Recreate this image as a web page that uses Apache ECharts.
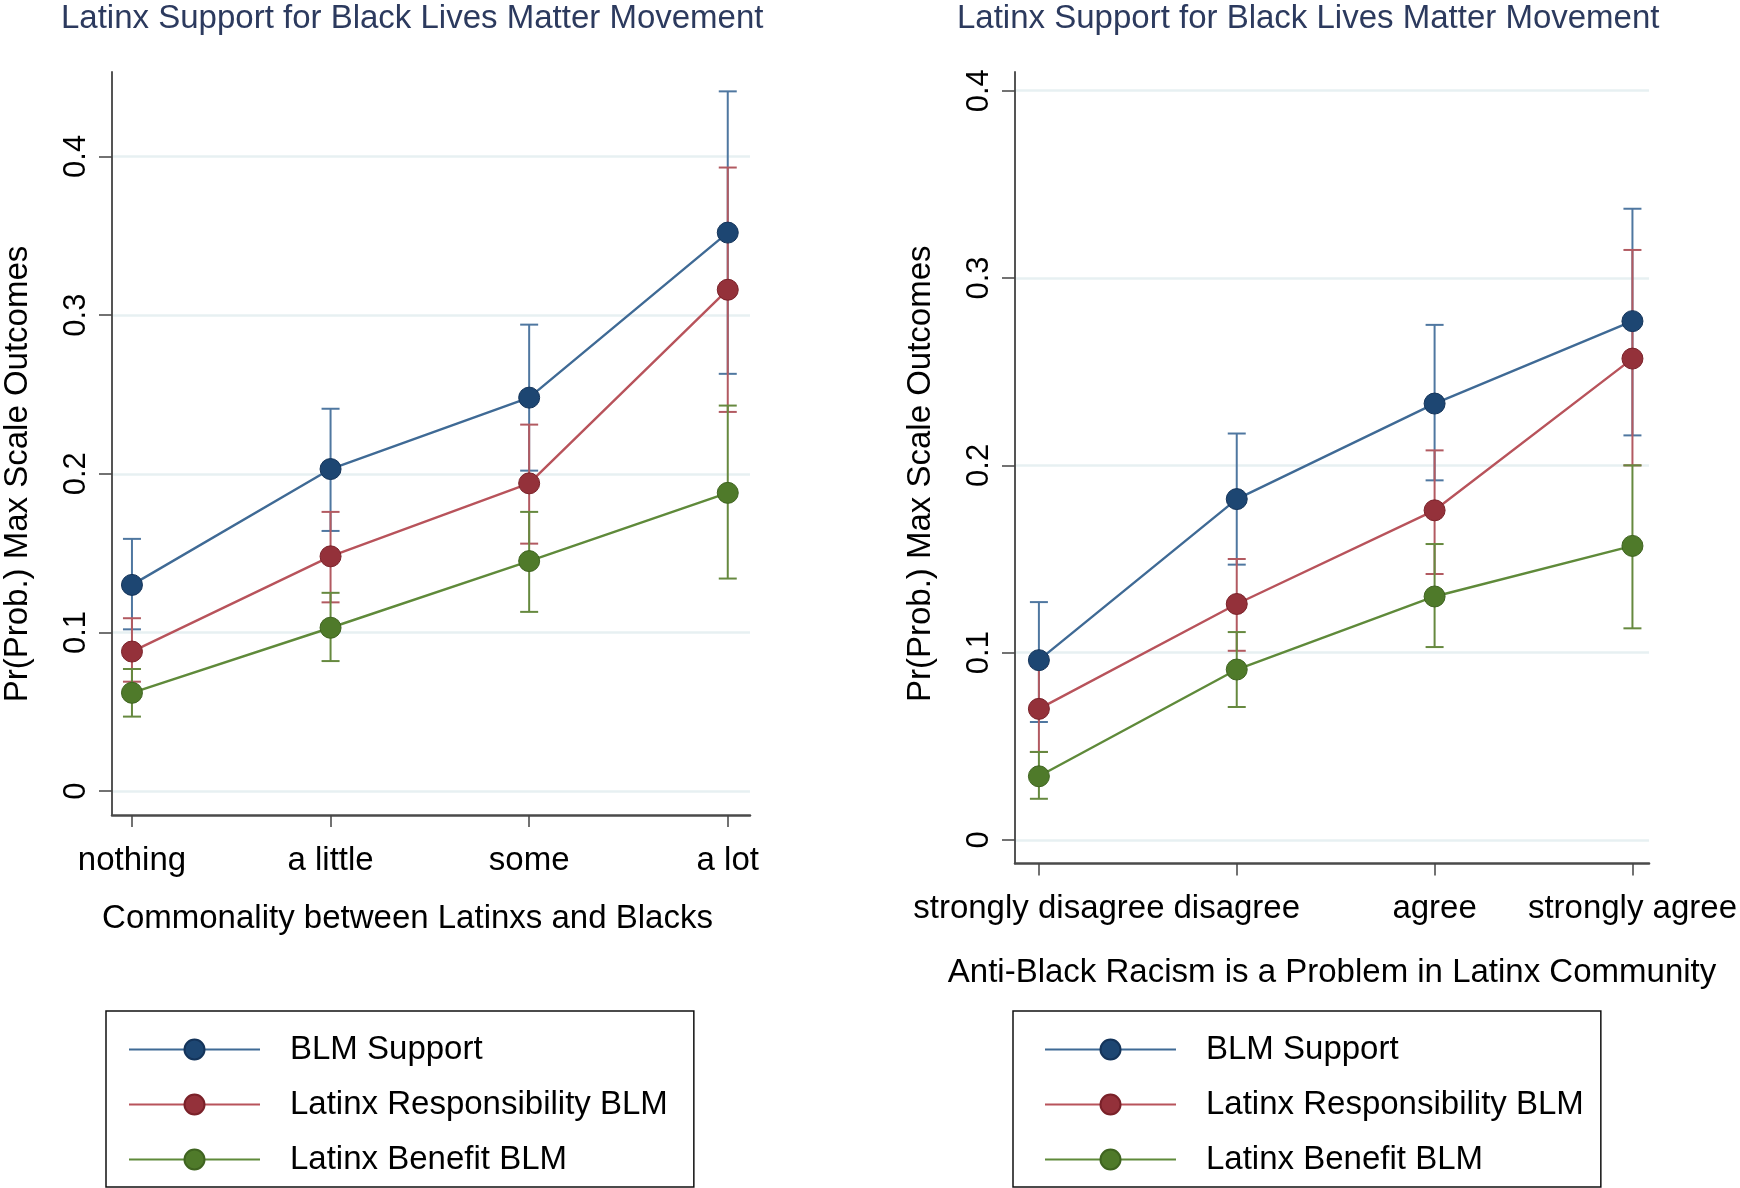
<!DOCTYPE html>
<html><head><meta charset="utf-8">
<script src="https://cdn.jsdelivr.net/npm/echarts@6/dist/echarts.min.js"></script>
<style>html,body{margin:0;padding:0;background:#fff}#c{width:1740px;height:1188px}</style>
</head><body><div id="c"></div>
<script>
// ---------- data ----------
const titleText = 'Latinx Support for Black Lives Matter Movement';
const yName = 'Pr(Prob.) Max Scale Outcomes';
const seriesNames = ['BLM Support', 'Latinx Responsibility BLM', 'Latinx Benefit BLM'];
const yTicks = [0, 0.1, 0.2, 0.3, 0.4];
const xTicks = [0, 1, 2, 3];

// left panel
const cats1 = ['nothing', 'a little', 'some', 'a lot'];
const xName1 = 'Commonality between Latinxs and Blacks';
const blm1   = [0.130, 0.203, 0.248, 0.352];
const blm1Lo = [0.102, 0.164, 0.202, 0.263];
const blm1Hi = [0.159, 0.241, 0.294, 0.441];
const resp1   = [0.088, 0.148, 0.194, 0.316];
const resp1Lo = [0.069, 0.119, 0.156, 0.239];
const resp1Hi = [0.109, 0.176, 0.231, 0.393];
const ben1   = [0.062, 0.103, 0.145, 0.188];
const ben1Lo = [0.047, 0.082, 0.113, 0.134];
const ben1Hi = [0.077, 0.125, 0.176, 0.243];

// right panel
const cats2 = ['strongly disagree', 'disagree', 'agree', 'strongly agree'];
const xName2 = 'Anti-Black Racism is a Problem in Latinx Community';
const blm2   = [0.096, 0.182, 0.233, 0.277];
const blm2Lo = [0.063, 0.147, 0.192, 0.216];
const blm2Hi = [0.127, 0.217, 0.275, 0.337];
const resp2   = [0.070, 0.126, 0.176, 0.257];
const resp2Lo = [0.047, 0.101, 0.142, 0.200];
const resp2Hi = [0.093, 0.150, 0.208, 0.315];
const ben2   = [0.034, 0.091, 0.130, 0.157];
const ben2Lo = [0.022, 0.071, 0.103, 0.113];
const ben2Hi = [0.047, 0.111, 0.158, 0.200];

// ---------- style ----------
const FONT = "'Liberation Sans', Arial, Helvetica, sans-serif";
const lineColors = ['#3f6a95', '#b8535b', '#5f8a3a'];
const markColors = ['#1d4672', '#94313a', '#4f7a2a'];
const markBorders = ['#14345a', '#7a2129', '#3f6420'];
const ciColors = ['#4f77a0', '#b25a61', '#66893f'];

const chart = echarts.init(document.getElementById('c'), null, {renderer: 'canvas'});

function pairs(vals) { return vals.map((v, i) => [i, v]); }
function ciData(lo, hi) { return lo.map((v, i) => [i, v, hi[i]]); }

function errRender(params, api) {
  const x = api.value(0), lo = api.value(1), hi = api.value(2);
  const a = api.coord([x, lo]), b = api.coord([x, hi]);
  const w = 9;
  const style = {stroke: api.visual('color'), lineWidth: 2};
  return {type: 'group', children: [
    {type: 'line', shape: {x1: a[0], y1: a[1], x2: b[0], y2: b[1]}, style: style},
    {type: 'line', shape: {x1: a[0] - w, y1: a[1], x2: a[0] + w, y2: a[1]}, style: style},
    {type: 'line', shape: {x1: b[0] - w, y1: b[1], x2: b[0] + w, y2: b[1]}, style: style}
  ]};
}

function xAxisOpt(gi, cats, name, min, max, namePad, nameGap) {
  return {
    type: 'value', gridIndex: gi, min: min, max: max,
    name: name, nameLocation: 'middle', nameGap: nameGap,
    nameTextStyle: {fontFamily: FONT, fontSize: 33, color: '#000', padding: namePad},
    axisLine: {show: true, onZero: false, lineStyle: {color: '#4a4a4a', width: 2.5}},
    axisTick: {show: true, customValues: xTicks, length: 12, lineStyle: {color: '#444', width: 1.5}},
    axisLabel: {show: true, customValues: xTicks, margin: 29, fontFamily: FONT, fontSize: 33, color: '#000',
      formatter: v => cats[Math.round(v)]},
    splitLine: {show: false}
  };
}
function yAxisOpt(gi, min, max, namePad) {
  return {
    type: 'value', gridIndex: gi, min: min, max: max,
    name: yName, nameLocation: 'middle', nameGap: 78,
    nameTextStyle: {fontFamily: FONT, fontSize: 33, color: '#000', padding: namePad},
    axisLine: {show: true, onZero: false, lineStyle: {color: '#555', width: 2}},
    axisTick: {show: true, customValues: yTicks, length: 13, lineStyle: {color: '#444', width: 1.5}},
    axisLabel: {show: true, customValues: yTicks, rotate: 90, margin: 20, fontFamily: FONT, fontSize: 31, color: '#000',
      formatter: v => (Math.round(v * 10) / 10).toString()},
    splitLine: {show: true, lineStyle: {color: '#e7f0f2', width: 2.5}}
  };
}

function panelSeries(gi, vals, los, his) {
  const out = [];
  for (let k = 0; k < 3; k++) {
    out.push({
      type: 'custom', name: seriesNames[k] + ' CI', xAxisIndex: gi, yAxisIndex: gi,
      renderItem: errRender, data: ciData(los[k], his[k]),
      encode: {x: 0, y: [1, 2]}, itemStyle: {color: ciColors[k]}, z: 2, silent: true
    });
  }
  for (let k = 0; k < 3; k++) {
    out.push({
      type: 'line', name: seriesNames[k], xAxisIndex: gi, yAxisIndex: gi,
      data: pairs(vals[k]), symbol: 'circle', symbolSize: 21,
      lineStyle: {color: lineColors[k], width: 2.4},
      itemStyle: {color: markColors[k], borderColor: markBorders[k], borderWidth: 1},
      z: 3, animation: false
    });
  }
  return out;
}

function legendOpt(left, pad) {
  return {
    orient: 'vertical', left: left, top: 1011,
    data: seriesNames,
    padding: pad,
    itemWidth: 131, itemHeight: 25, itemGap: 22,
    backgroundColor: '#fff', borderColor: '#111', borderWidth: 1.5,
    textStyle: {fontFamily: FONT, fontSize: 33, color: '#000', padding: [0, 0, 0, 25], lineHeight: 33},
    selectedMode: false
  };
}

const option = {
  backgroundColor: '#fff',
  animation: false,
  title: [
    {text: titleText, left: 61, top: 2, padding: 0,
     textStyle: {fontFamily: FONT, fontSize: 33, fontWeight: 'normal', color: '#2c3a5e'}},
    {text: titleText, left: 957, top: 2, padding: 0,
     textStyle: {fontFamily: FONT, fontSize: 33, fontWeight: 'normal', color: '#2c3a5e'}}
  ],
  grid: [
    {left: 110.7, top: 72, width: 639.3, height: 743, containLabel: false},
    {left: 1015, top: 72, width: 636.7, height: 791.5, containLabel: false}
  ],
  xAxis: [
    xAxisOpt(0, cats1, xName1, -0.1005, 3.112, [0, 47, 0, 0], 87),
    xAxisOpt(1, cats2, xName2, -0.1208, 3.084, [0, 0, 0, 0], 93)
  ],
  yAxis: [
    yAxisOpt(0, -0.015, 0.4532, [0, 61, 0, 0]),
    yAxisOpt(1, -0.01255, 0.410, [0, 12, 0, 0])
  ],
  legend: [
    legendOpt(106, [22, 26, 11, 22]),
    legendOpt(1013, [22, 17, 11, 31])
  ],
  series: [].concat(
    panelSeries(0, [blm1, resp1, ben1], [blm1Lo, resp1Lo, ben1Lo], [blm1Hi, resp1Hi, ben1Hi]),
    panelSeries(1, [blm2, resp2, ben2], [blm2Lo, resp2Lo, ben2Lo], [blm2Hi, resp2Hi, ben2Hi])
  )
};
chart.setOption(option);
</script>
</body></html>
